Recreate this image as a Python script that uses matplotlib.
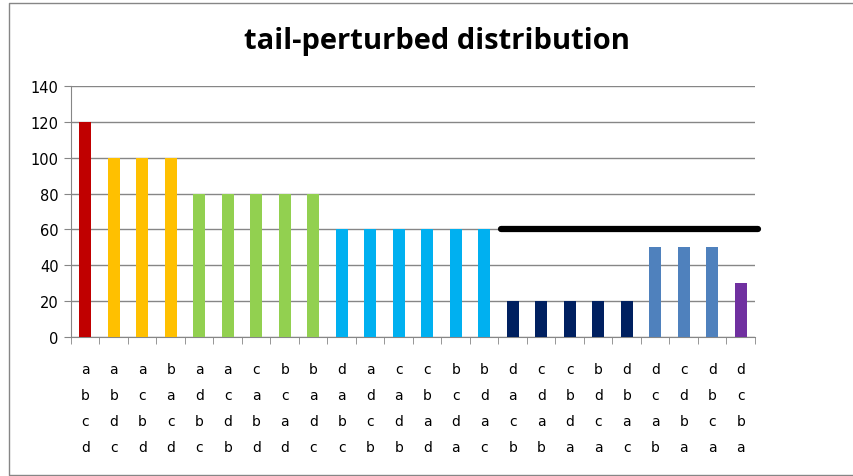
import matplotlib.pyplot as plt
from matplotlib.lines import Line2D

# permutation labels (top to bottom) and counts
labels = ['abcd', 'abdc', 'acbd', 'bacd', 'adbc', 'acdb', 'cabd', 'bcad',
          'badc', 'dabc', 'adcb', 'cadb', 'cbad', 'bcda', 'bdac', 'dacb',
          'cdab', 'cbda', 'bdca', 'dbac', 'dcab', 'cdba', 'dbca', 'dcba']
values = [120, 100, 100, 100, 80, 80, 80, 80, 80, 60, 60, 60, 60, 60, 60,
          20, 20, 20, 20, 20, 50, 50, 50, 30]
colors = ['#C00000'] + ['#FFC000'] * 3 + ['#92D050'] * 5 + ['#00B0F0'] * 6 + \
         ['#002060'] * 5 + ['#4F81BD'] * 3 + ['#7030A0']

# horizontal reference line over the tail
ref_value = 60
ref_start = 14.6
ref_end = 23.6

fig = plt.figure(figsize=(8.54, 4.77), dpi=100)
# chart frame: top, left and bottom edges (right edge is off the picture)
fig.add_artist(Line2D([1.0, 9.5 / 854, 9.5 / 854, 1.0],
                      [1 - 3.5 / 477, 1 - 3.5 / 477, 1.5 / 477, 1.5 / 477],
                      transform=fig.transFigure, color='#868686', linewidth=1))
ax = fig.add_axes([71 / 854, 1 - 338 / 477, 684 / 854, 251 / 477])

x = range(len(values))
ax.bar(x, values, width=0.41, color=colors, zorder=3)
ax.plot([ref_start, ref_end], [ref_value, ref_value], color='black', linewidth=4.5,
        solid_capstyle='round', zorder=4, clip_on=False)

ax.set_xlim(-0.5, len(values) - 0.5)
ax.set_ylim(0, 140)
ax.set_yticks(range(0, 141, 20))
ax.yaxis.grid(True, color='#868686', linewidth=1, zorder=0)
ax.set_axisbelow(True)

ax.set_xticks(list(x))
ax.set_xticklabels(['\n'.join(l) for l in labels], linespacing=2.1, fontsize=10,
                   fontfamily='DejaVu Sans', verticalalignment='top')
ax.set_xticks([i - 0.5 for i in range(len(values) + 1)], minor=True)
ax.tick_params(axis='x', which='major', length=0, pad=18)
ax.tick_params(axis='x', which='minor', length=5, color='#868686')
ax.tick_params(axis='y', length=5, color='#868686', labelsize=10.5, pad=4)
for lbl in ax.get_yticklabels():
    lbl.set_fontfamily('DejaVu Sans')

for s in ['top', 'right']:
    ax.spines[s].set_visible(False)
for s in ['left', 'bottom']:
    ax.spines[s].set_color('#868686')

fig.text(437 / 854, 1 - 42 / 477, 'tail-perturbed distribution', ha='center', va='center',
         fontsize=21, fontweight='bold', fontfamily='Open Sans')

fig.savefig('out.png', dpi=100)
